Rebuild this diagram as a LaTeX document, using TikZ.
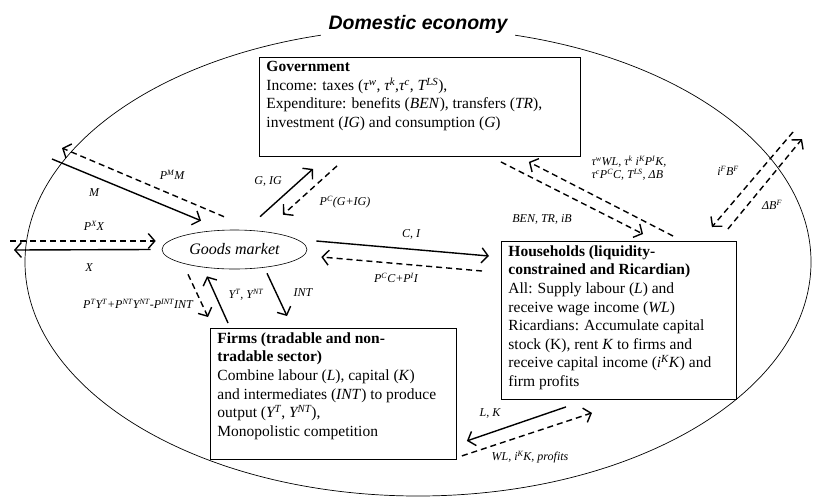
\documentclass[tikz,border=0pt]{standalone}
\usepackage{fontspec}
\setmainfont{Liberation Serif}
\newfontfamily\headfont{Liberation Sans}
\usetikzlibrary{arrows.meta,shapes.geometric}
\newcommand{\boxtext}[3]{\parbox[t][#2][t]{#1}{\raggedright #3}}

\begin{document}
\begin{tikzpicture}[x=1pt,y=-1pt,
	real/.style={-{Straight Barb[length=6.5pt,width=15pt]},line width=1.4pt},
	money/.style={real,dash pattern=on 6pt off 4pt},
	lbl/.style={font=\fontsize{12}{13}\selectfont\itshape,inner sep=0pt},
	sector/.style={shape=rectangle,draw=black,line width=0.9pt,anchor=north west,inner xsep=7pt,inner ysep=4pt,font=\fontsize{15.5}{18.6}\selectfont}]
	\useasboundingbox (0,0) rectangle (813,496);
	\draw [line width=0.7pt] (418,262) ellipse [x radius=393pt,y radius=234pt];
	\node [fill=white,inner xsep=8pt,font=\headfont\bfseries\itshape\fontsize{19.5}{22}\selectfont] (T) at (418,24) {Domestic economy};

	\node [sector] (G) at (259,57) {\boxtext{307pt}{91pt}{\textbf{Government}\\
		Income: taxes (\textit{τ\textsuperscript{w}}, \textit{τ\textsuperscript{k}},\textit{τ\textsuperscript{c}}, \textit{T\textsuperscript{LS}}),\\
		Expenditure: benefits (\textit{BEN}), transfers (\textit{TR}),\\
		investment (\textit{IG}) and consumption (\textit{G})}};
	\node [sector] (H) at (501,241) {\boxtext{221pt}{150pt}{\textbf{Households (liquidity-}\\
		\textbf{constrained and Ricardian)}\\
		All: Supply labour (\textit{L}) and\\
		receive wage income (\textit{WL})\\
		Ricardians: Accumulate capital\\
		stock (K), rent \textit{K} to firms and\\
		receive capital income (\textit{i\textsuperscript{K}K}) and\\
		firm profits}};
	\node [sector] (F) at (210,328) {\boxtext{232pt}{123pt}{\textbf{Firms (tradable and non-}\\
		\textbf{tradable sector)}\\
		Combine labour (\textit{L}), capital (\textit{K})\\
		and intermediates (\textit{INT}) to produce\\
		output (\textit{Y\textsuperscript{T}}, \textit{Y\textsuperscript{NT}}),\\
		Monopolistic competition}};
	\node [shape=ellipse,draw=black,line width=0.6pt,minimum width=145pt,minimum height=39pt,inner sep=0pt,font=\fontsize{16}{18}\selectfont\itshape] (GM) at (234.5,249.5) {Goods market};

	\coordinate (Mout) at (52,159);
	\coordinate (PMout) at (62,148);
	\coordinate (PXout) at (10,241);
	\coordinate (Xout) at (14,250);
	\coordinate (IFout) at (793,132);
	\coordinate (DBout) at (802,139);

	% rest of the world
	\path [real] (Mout) edge ([xshift=-33.5pt,yshift=9pt]GM.north);
	\path [money] ([xshift=-10.5pt,yshift=13pt]GM.north) edge (PMout);
	\path [money] (PXout) edge ([xshift=-6pt,yshift=8.5pt]GM.west);
	\path [real] ([xshift=-11pt]GM.west) edge (Xout);
	% government
	\path [real] ([xshift=25.5pt,yshift=13pt]GM.north) edge ([xshift=54pt,yshift=-12pt]G.south west);
	\path [money] ([xshift=78pt,yshift=-9pt]G.south west) edge ([xshift=48.5pt,yshift=15pt]GM.north);
	% households
	\path [real] ([xshift=9pt,yshift=8.5pt]GM.east) edge ([xshift=-12pt,yshift=-15pt]H.north west);
	\path [money] ([xshift=-19pt,yshift=-30pt]H.north west) edge ([xshift=14pt,yshift=-7.5pt]GM.east);
	% firms
	\path [money] ([xshift=-46.5pt,yshift=-5pt]GM.south) edge ([xshift=-2pt,yshift=11pt]F.north west);
	\path [real] ([xshift=18pt,yshift=5pt]F.north west) edge ([xshift=-27.5pt,yshift=-7pt]GM.south);
	\path [real] ([xshift=32.5pt,yshift=-4pt]GM.south) edge ([xshift=77pt,yshift=12pt]F.north west);
	% government and households
	\path [money] ([xshift=-80pt,yshift=-5pt]G.south east) edge ([xshift=142pt,yshift=7pt]H.north west);
	\path [money] ([xshift=172pt,yshift=5pt]H.north west) edge ([xshift=-52pt,yshift=-5pt]G.south east);
	% foreign bonds
	\path [money] (IFout) edge ([xshift=-25pt,yshift=14pt]H.north east);
	\path [money] ([xshift=-9pt,yshift=12pt]H.north east) edge (DBout);
	% factors
	\path [real] ([xshift=65pt,yshift=-7pt]H.south west) edge ([xshift=10pt,yshift=19pt]F.south east);
	\path [money] ([xshift=5pt,yshift=4pt]F.south east) edge ([xshift=91pt,yshift=-13pt]H.south west);

	\node [lbl] (lM) at (94,193) {M};
	\node [lbl] (lPM) at (172,175) {P\textsuperscript{M}M};
	\node [lbl] (lPX) at (94,226) {P\textsuperscript{X}X};
	\node [lbl] (lX) at (89,268) {X};
	\node [lbl] (lGIG) at (268,181) {G, IG};
	\node [lbl] (lPG) at (345,202) {P\textsuperscript{C}(G+IG)};
	\node [lbl] (lCI) at (411,234) {C, I};
	\node [lbl] (lPC) at (396,278) {P\textsuperscript{C}C+P\textsuperscript{I}I};
	\node [lbl] (lPY) at (138,304) {P\textsuperscript{T}Y\textsuperscript{T}+P\textsuperscript{NT}Y\textsuperscript{NT}-P\textsuperscript{INT}INT};
	\node [lbl] (lY) at (246,295) {Y\textsuperscript{T}, Y\textsuperscript{NT}};
	\node [lbl] (lINT) at (303,293) {INT};
	\node [lbl,align=left] (lTAX) at (629,168) {τ\textsuperscript{w}WL, τ\textsuperscript{k} i\textsuperscript{K}P\textsuperscript{I}K,\\τ\textsuperscript{c}P\textsuperscript{C}C, T\textsuperscript{LS}, ΔB};
	\node [lbl] (lBEN) at (542,219) {BEN, TR, iB};
	\node [lbl] (lIF) at (728,171) {i\textsuperscript{F}B\textsuperscript{F}};
	\node [lbl] (lDB) at (772,205) {ΔB\textsuperscript{F}};
	\node [lbl] (lLK) at (490,413) {L, K};
	\node [lbl] (lWL) at (530,457) {WL, i\textsuperscript{K}K, profits};
\end{tikzpicture}
\end{document}
